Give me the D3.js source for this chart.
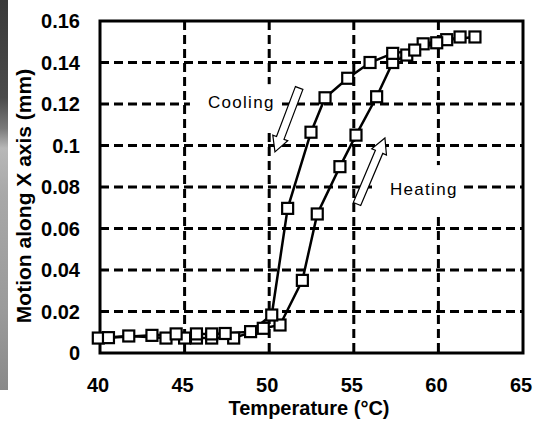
<!DOCTYPE html>
<html><head><meta charset="utf-8">
<script src="https://cdn.jsdelivr.net/npm/d3@7"></script>
<style>html,body{margin:0;padding:0;background:#fff;}svg{display:block;}</style>
</head><body>
<script>
// ---- data ----
const xTicks = [40, 45, 50, 55, 60, 65];
const yTicks = [0, 0.02, 0.04, 0.06, 0.08, 0.1, 0.12, 0.14, 0.16];
const yTickLabels = ["0", "0.02", "0.04", "0.06", "0.08", "0.1", "0.12", "0.14", "0.16"];

const heatT = [39.9, 41.7, 43.9, 45.0, 45.7, 46.6, 47.9, 49.65, 50.64, 51.96, 52.84, 54.18, 55.13, 56.35, 57.3, 58.13, 59.1, 60.49, 62.16];
const heatV = [0.0072, 0.0082, 0.0072, 0.0072, 0.0072, 0.0072, 0.0072, 0.0119, 0.0135, 0.035, 0.067, 0.0898, 0.105, 0.1235, 0.140, 0.1436, 0.149, 0.151, 0.1523];

const coolT = [61.28, 59.9, 58.6, 57.3, 55.96, 54.64, 53.3, 52.47, 51.09, 50.15, 48.9, 47.4, 46.6, 45.7, 44.5, 43.07, 40.5];
const coolV = [0.1523, 0.1495, 0.146, 0.1444, 0.140, 0.1324, 0.123, 0.1064, 0.0697, 0.0183, 0.0103, 0.0094, 0.0092, 0.0092, 0.0092, 0.0085, 0.0074];

const labels = ["Cooling", "Heating"];
const labelT = [46.38, 57.14];
const labelV = [0.118, 0.0761];
// arrows: [tailT, tailV, tipT, tipV]
const arrowCool = [51.77, 0.1277, 50.34, 0.0969];
const arrowHeat = [55.19, 0.0718, 56.84, 0.1036];

const xTitle = "Temperature (°C)";
const yTitle = "Motion along X axis (mm)";

// ---- drawing ----
const W = 536, H = 422;
const m = {left: 100, right: 13, top: 21, bottom: 69};
const svg = d3.select("body").append("svg").attr("width", W).attr("height", H);

// left grey photo strip
const defs = svg.append("defs");
const g1 = defs.append("linearGradient").attr("id", "strip").attr("x1", 0).attr("y1", 0).attr("x2", 0).attr("y2", 1);
[[0, "#3a3a3a"], [0.25, "#4a4a4a"], [0.33, "#7a7a7a"], [0.38, "#b8b8b8"], [0.5, "#a8a8a8"], [0.8, "#9a9a9a"], [1, "#8a8a8a"]]
  .forEach(([o, c]) => g1.append("stop").attr("offset", o).attr("stop-color", c));
svg.append("rect").attr("x", 0).attr("y", 0).attr("width", 8).attr("height", 390).attr("fill", "url(#strip)");

const x = d3.scaleLinear().domain([40, 65]).range([m.left, W - m.right]);
const y = d3.scaleLinear().domain([0, 0.16]).range([H - m.bottom, m.top]);

const font = "'Liberation Sans', Arial, sans-serif";

// grid
const grid = svg.append("g").attr("stroke", "#000").attr("stroke-width", 3).attr("stroke-dasharray", "9,5");
grid.selectAll(".hg").data(yTicks.slice(1, -1)).enter().append("line")
  .attr("x1", x(40)).attr("x2", x(65)).attr("y1", d => y(d)).attr("y2", d => y(d));
grid.selectAll(".vg").data(xTicks.slice(1, -1)).enter().append("line")
  .attr("y1", y(0.16)).attr("y2", y(0)).attr("x1", d => x(d)).attr("x2", d => x(d));

// white boxes behind annotation text
svg.append("rect").attr("x", x(labelT[0]) - 18).attr("y", y(labelV[0]) - 24).attr("width", 92).attr("height", 46).attr("fill", "#fff");
svg.append("rect").attr("x", x(labelT[1]) - 18).attr("y", y(labelV[1]) - 30).attr("width", 91).attr("height", 50).attr("fill", "#fff");

// annotation text
svg.selectAll(".ann").data(labels).enter().append("text")
  .attr("x", (d, i) => x(labelT[i])).attr("y", (d, i) => y(labelV[i]))
  .attr("font-family", font).attr("font-size", 17).attr("letter-spacing", 1.3)
  .attr("fill", "#000").text(d => d);

// hollow arrows
function arrow(a) {
  const x0 = x(a[0]), y0 = y(a[1]), x1 = x(a[2]), y1 = y(a[3]);
  const dx = x1 - x0, dy = y1 - y0, L = Math.hypot(dx, dy);
  const ux = dx / L, uy = dy / L, px = -uy, py = ux;
  const sw = 4, hw = 8, hl = 15;
  const bx = x1 - ux * hl, by = y1 - uy * hl;
  const pts = [
    [x0 + px * sw, y0 + py * sw], [bx + px * sw, by + py * sw], [bx + px * hw, by + py * hw],
    [x1, y1], [bx - px * hw, by - py * hw], [bx - px * sw, by - py * sw], [x0 - px * sw, y0 - py * sw]
  ];
  svg.append("polygon").attr("points", pts.map(p => p.join(",")).join(" "))
    .attr("fill", "#fff").attr("stroke", "#000").attr("stroke-width", 1.2);
}
arrow(arrowCool);
arrow(arrowHeat);

// frame
svg.append("rect").attr("x", x(40)).attr("y", y(0.16)).attr("width", x(65) - x(40)).attr("height", y(0) - y(0.16))
  .attr("fill", "none").attr("stroke", "#000").attr("stroke-width", 3);

// data
const line = d3.line().x(d => x(d[0])).y(d => y(d[1]));
const heat = heatT.map((t, i) => [t, heatV[i]]);
const cool = coolT.map((t, i) => [t, coolV[i]]);
[heat, cool].forEach(s => {
  svg.append("path").datum(s).attr("d", line).attr("fill", "none").attr("stroke", "#000").attr("stroke-width", 2.5);
});
const ms = 11;
[heat, cool].forEach(s => {
  svg.append("g").selectAll("rect").data(s).enter().append("rect")
    .attr("x", d => x(d[0]) - ms / 2).attr("y", d => y(d[1]) - ms / 2)
    .attr("width", ms).attr("height", ms)
    .attr("fill", "#fff").attr("stroke", "#000").attr("stroke-width", 2.2);
});

// tick labels
svg.selectAll(".xl").data(xTicks).enter().append("text")
  .attr("x", d => x(d) - 2).attr("y", 392).attr("text-anchor", "middle")
  .attr("font-family", font).attr("font-weight", "bold").attr("font-size", 20).text(d => d);
svg.selectAll(".yl").data(yTicks).enter().append("text")
  .attr("x", 80).attr("y", d => y(d) + 7).attr("text-anchor", "end")
  .attr("font-family", font).attr("font-weight", "bold").attr("font-size", 20).text((d, i) => yTickLabels[i]);

// axis titles
svg.append("text").attr("x", 309).attr("y", 415).attr("text-anchor", "middle")
  .attr("font-family", font).attr("font-weight", "bold").attr("font-size", 20).text(xTitle);
svg.append("text").attr("transform", "translate(31,196) rotate(-90)").attr("text-anchor", "middle")
  .attr("font-family", font).attr("font-weight", "bold").attr("font-size", 21).text(yTitle);
</script>
</body></html>
